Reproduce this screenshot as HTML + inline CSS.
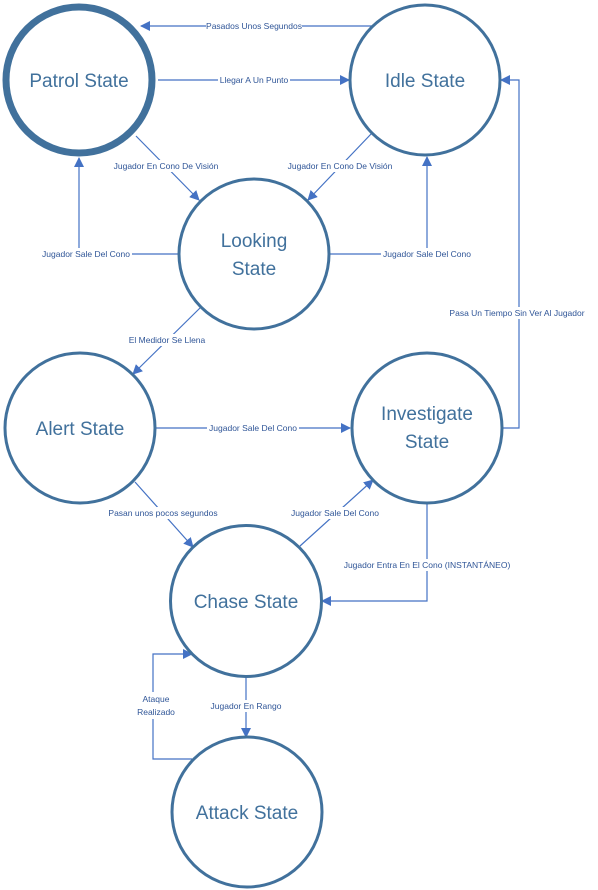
<!DOCTYPE html>
<html><head><meta charset="utf-8"><style>
html,body{margin:0;padding:0;background:#fff;width:598px;height:890px;overflow:hidden}
svg text{font-family:"Liberation Sans",sans-serif}
.t{font-size:19px;fill:#41719C;text-anchor:middle}
.l{font-size:8.5px;fill:#2F5597;text-anchor:middle}
.c{stroke:#41719C;stroke-width:3;fill:#fff}
.e{stroke:#4472C4;stroke-width:1.2;fill:none}
</style></head><body>
<svg width="598" height="890" xmlns="http://www.w3.org/2000/svg">
<defs><marker id="a" markerWidth="10" markerHeight="10" refX="9" refY="5" orient="auto" markerUnits="userSpaceOnUse"><path d="M0,0 L10,5 L0,10 z" fill="#4472C4"/></marker></defs>
<g class="e">
<path d="M372,26 H141" marker-end="url(#a)"/>
<path d="M158,80 H349" marker-end="url(#a)"/>
<path d="M136,136 L199,200" marker-end="url(#a)"/>
<path d="M372,133 L308,200" marker-end="url(#a)"/>
<path d="M178,254 H79 V158" marker-end="url(#a)"/>
<path d="M330,254 H427 V157" marker-end="url(#a)"/>
<path d="M200,308 L133,374" marker-end="url(#a)"/>
<path d="M155,428 H350" marker-end="url(#a)"/>
<path d="M503,428 H519 V80 H501" marker-end="url(#a)"/>
<path d="M135,482 L193,547" marker-end="url(#a)"/>
<path d="M300,546 L373,480" marker-end="url(#a)"/>
<path d="M427,503 V601 H322" marker-end="url(#a)"/>
<path d="M246,677 V737" marker-end="url(#a)"/>
<path d="M192,759 H153 V654 H192" marker-end="url(#a)"/>
</g>
<g fill="#fff">
<rect x="206" y="20" width="96" height="12"/>
<rect x="218" y="74" width="72" height="12"/>
<rect x="112" y="160" width="108" height="12"/>
<rect x="286" y="160" width="108" height="12"/>
<rect x="40" y="248" width="92" height="12"/>
<rect x="381" y="248" width="92" height="12"/>
<rect x="127" y="334" width="80" height="12"/>
<rect x="207" y="422" width="92" height="12"/>
<rect x="448" y="307" width="138" height="12"/>
<rect x="108" y="507" width="110" height="12"/>
<rect x="289" y="507" width="92" height="12"/>
<rect x="342" y="559" width="170" height="12"/>
<rect x="209" y="700" width="74" height="12"/>
<rect x="135" y="692" width="42" height="27"/>
</g>
<g class="l">
<text x="254" y="29">Pasados Unos Segundos</text>
<text x="254" y="83">Llegar A Un Punto</text>
<text x="166" y="169">Jugador En Cono De Visión</text>
<text x="340" y="169">Jugador En Cono De Visión</text>
<text x="86" y="257">Jugador Sale Del Cono</text>
<text x="427" y="257">Jugador Sale Del Cono</text>
<text x="167" y="343">El Medidor Se Llena</text>
<text x="253" y="431">Jugador Sale Del Cono</text>
<text x="517" y="316">Pasa Un Tiempo Sin Ver Al Jugador</text>
<text x="163" y="516">Pasan unos pocos segundos</text>
<text x="335" y="516">Jugador Sale Del Cono</text>
<text x="427" y="568">Jugador Entra En El Cono (INSTANTÁNEO)</text>
<text x="246" y="709">Jugador En Rango</text>
<text x="156" y="702">Ataque</text>
<text x="156" y="715">Realizado</text>
</g>
<circle cx="79" cy="80" r="73" fill="#fff" stroke="#41719C" stroke-width="7"/>
<circle class="c" cx="425" cy="80" r="75"/>
<circle class="c" cx="254" cy="254" r="75"/>
<circle class="c" cx="80" cy="428" r="75"/>
<circle class="c" cx="427" cy="428" r="75"/>
<circle class="c" cx="246" cy="601" r="75.5"/>
<circle class="c" cx="247" cy="812" r="75"/>
<text class="t" x="79" y="87">Patrol State</text>
<text class="t" x="425" y="87">Idle State</text>
<text class="t" x="254" y="247">Looking</text>
<text class="t" x="254" y="275">State</text>
<text class="t" x="80" y="435">Alert State</text>
<text class="t" x="427" y="420">Investigate</text>
<text class="t" x="427" y="448">State</text>
<text class="t" x="246" y="608">Chase State</text>
<text class="t" x="247" y="819">Attack State</text>
</svg>
</body></html>
